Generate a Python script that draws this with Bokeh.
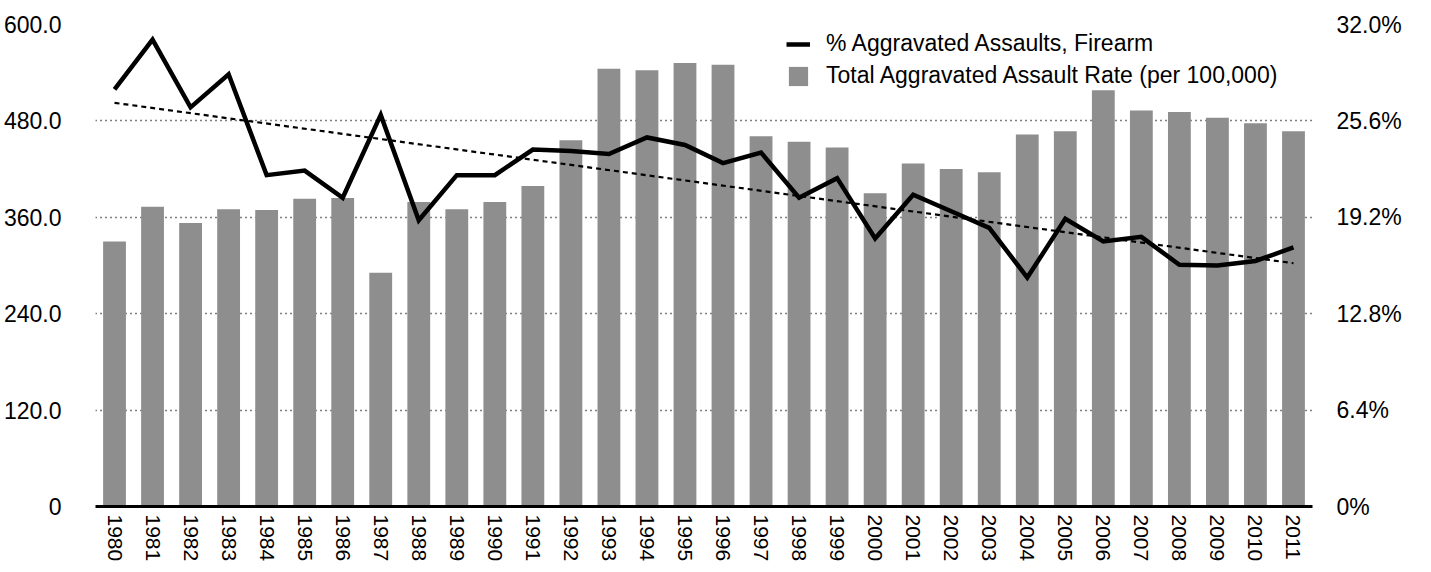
import math
from bokeh.plotting import figure
from bokeh.models import Range1d, LinearAxis, FactorRange, FixedTicker, Legend, LegendItem
from bokeh.embed import file_html
from bokeh.resources import INLINE

years = ["1980", "1981", "1982", "1983", "1984", "1985", "1986", "1987",
         "1988", "1989", "1990", "1991", "1992", "1993", "1994", "1995",
         "1996", "1997", "1998", "1999", "2000", "2001", "2002", "2003",
         "2004", "2005", "2006", "2007", "2008", "2009", "2010", "2011"]

assault_rate = [330, 373, 353, 370, 369, 383, 384, 291,
                379, 370, 379, 399, 456, 545, 543, 552,
                550, 461, 454, 447, 390, 427, 420, 416,
                463, 467, 518, 493, 491, 484, 477, 467]

pct_firearm = [27.7, 31.0, 26.5, 28.7, 22.0, 22.3, 20.5, 26.0,
               19.0, 22.0, 22.0, 23.7, 23.6, 23.4, 24.5, 24.0,
               22.8, 23.5, 20.5, 21.8, 17.8, 20.7, 19.6, 18.5,
               15.2, 19.1, 17.6, 17.9, 16.05, 16.0, 16.3, 17.2]

trend_years = ["1980", "2011"]
trend_pct = [26.8, 16.15]

left_ticks = [0, 120, 240, 360, 480, 600]
left_labels = ["0", "120.0", "240.0", "360.0", "480.0", "600.0"]
right_ticks = [0, 6.4, 12.8, 19.2, 25.6, 32.0]
right_labels = ["0%", "6.4%", "12.8%", "19.2%", "25.6%", "32.0%"]

FONT = "Liberation Sans"
FS = "23px"

p = figure(width=1415, height=564, x_range=FactorRange(*years, range_padding=0),
           y_range=Range1d(0, 600), output_backend="svg", toolbar_location=None,
           min_border_left=89, min_border_right=103, min_border_top=24, min_border_bottom=55)
p.extra_y_ranges = {"pct": Range1d(0, 32)}
p.outline_line_color = None
p.background_fill_color = "white"
p.border_fill_color = "white"

bars = p.vbar(x=years, top=assault_rate, width=0.6, color="#8e8e8e", line_color=None)
line = p.line(x=years, y=pct_firearm, y_range_name="pct", line_width=4.5,
              line_color="black", line_join="miter")
p.line(x=trend_years, y=trend_pct, y_range_name="pct", line_width=2.2,
       line_color="black", line_dash="5 4")

# grid
p.xgrid.visible = False
p.ygrid.ticker = FixedTicker(ticks=left_ticks)
p.ygrid.grid_line_color = "black"
p.ygrid.grid_line_dash = "1 4"
p.ygrid.grid_line_width = 1.3

# left axis
ly = p.yaxis[0]
ly.ticker = FixedTicker(ticks=left_ticks)
ly.major_label_overrides = {t: l for t, l in zip(left_ticks, left_labels)}
ly.axis_line_color = None
ly.major_tick_line_color = None
ly.minor_tick_line_color = None
ly.major_label_text_font = FONT
ly.major_label_text_font_size = FS
ly.major_label_text_color = "black"
ly.major_label_standoff = 28

# right axis
ry = LinearAxis(y_range_name="pct", ticker=FixedTicker(ticks=right_ticks))
ry.major_label_overrides = {t: l for t, l in zip(right_ticks, right_labels)}
ry.axis_line_color = None
ry.major_tick_line_color = None
ry.minor_tick_line_color = None
ry.major_label_text_font = FONT
ry.major_label_text_font_size = FS
ry.major_label_text_color = "black"
ry.major_label_standoff = 18
p.add_layout(ry, "right")

# bottom axis
bx = p.xaxis[0]
bx.axis_line_width = 3
bx.axis_line_color = "black"
bx.major_tick_line_color = None
bx.minor_tick_line_color = None
bx.major_label_orientation = -math.pi / 2
bx.major_label_text_font = FONT
bx.major_label_text_font_size = "21px"
bx.major_label_text_color = "black"
bx.major_label_standoff = 2

legend = Legend(items=[
    LegendItem(label="% Aggravated Assaults, Firearm", renderers=[line]),
    LegendItem(label="Total Aggravated Assault Rate (per 100,000)", renderers=[bars]),
], location=(691, 417))
legend.background_fill_alpha = 0
legend.border_line_color = None
legend.padding = 0
legend.margin = 0
legend.spacing = 5
legend.glyph_width = 24
legend.glyph_height = 24
legend.label_standoff = 16
legend.label_text_font = FONT
legend.label_text_font_size = FS
legend.label_text_color = "black"
p.add_layout(legend, "center")

open("out.html", "w").write(file_html(p, INLINE))
